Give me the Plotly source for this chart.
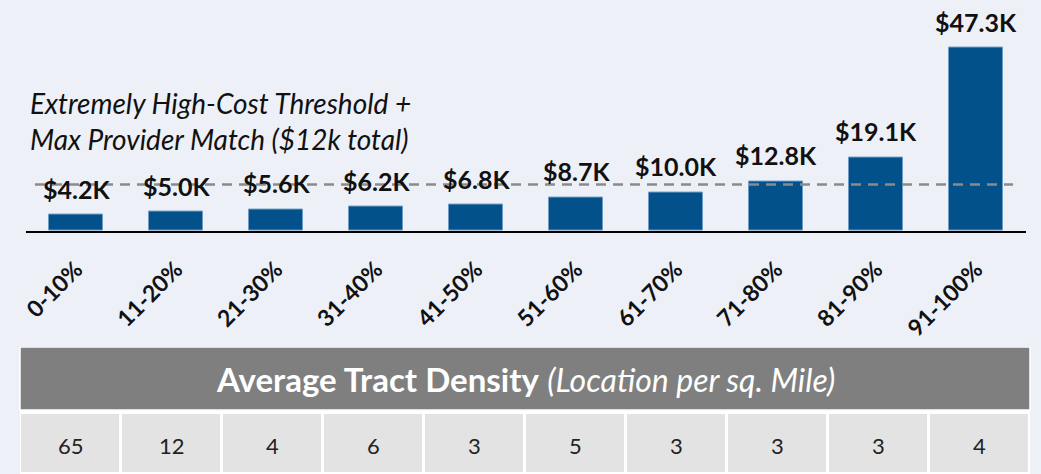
import plotly.graph_objects as go

categories = ["0-10%", "11-20%", "21-30%", "31-40%", "41-50%",
              "51-60%", "61-70%", "71-80%", "81-90%", "91-100%"]
costs_k = [4.2, 5.0, 5.6, 6.2, 6.8, 8.7, 10.0, 12.8, 19.1, 47.3]
cost_labels = ["$4.2K", "$5.0K", "$5.6K", "$6.2K", "$6.8K",
               "$8.7K", "$10.0K", "$12.8K", "$19.1K", "$47.3K"]
densities = [65, 12, 4, 6, 3, 5, 3, 3, 3, 4]
threshold_k = 12
threshold_text = "Extremely High-Cost Threshold +<br>Max Provider Match ($12k total)"
table_title = "<b>Average Tract Density</b> <i style='font-size:32px'>(Location per sq. Mile)</i>"

W, H = 1041, 474
BG = "#EDF0F6"
BAR = "#03518A"
FONT = "Lato"
xs = list(range(len(categories)))

fig = go.Figure()

fig.add_trace(go.Bar(
    x=xs, y=costs_k, width=0.54,
    marker=dict(color=BAR, line=dict(color="#6E9CC6", width=1)),
    hoverinfo="skip", showlegend=False,
))

# table cells drawn on a second axis
cell_top = 61
fig.add_trace(go.Bar(
    x=xs, y=[cell_top] * len(xs), base=0, width=1,
    marker=dict(color="#E3E3E3", line=dict(color="white", width=3)),
    xaxis="x2", yaxis="y2", hoverinfo="skip", showlegend=False,
))

annotations = []
for x, v, lab in zip(xs, costs_k, cost_labels):
    annotations.append(dict(x=x, y=v, text=f"<b>{lab}</b>", showarrow=False,
                            yanchor="bottom", yshift=9,
                            font=dict(family=FONT, size=25, color="#111111")))
for x, d in zip(xs, densities):
    annotations.append(dict(x=x, y=cell_top / 2 - 2, xref="x2", yref="y2", text=str(d),
                            showarrow=False, font=dict(family=FONT, size=22, color="#222222")))
annotations.append(dict(x=0.5, y=95, xref="x2 domain", yref="y2", text=table_title,
                        showarrow=False, font=dict(family=FONT, size=33, color="white")))
annotations.append(dict(x=28 / W, y=1 - 121 / H, xref="paper", yref="paper",
                        text=f"<i>{threshold_text}</i>", showarrow=False, align="left",
                        xanchor="left", yanchor="middle",
                        font=dict(family=FONT, size=28, color="#111111")))

shapes = [
    dict(type="rect", xref="x2 domain", yref="y2", x0=0, x1=1, y0=64, y1=127,
         fillcolor="#7F7F7F", line=dict(color="white", width=1.5), layer="below"),
    dict(type="line", xref="x", yref="y", x0=-0.41, x1=9.37, y0=threshold_k, y1=threshold_k,
         line=dict(color="#8A8A8A", width=2.5, dash="10px,7px"), layer="above"),
]

base_px = 231
px_per_k = 183 / 47.3
ytop = 50
top_px = base_px - ytop * px_per_k

fig.update_layout(
    width=W, height=H, margin=dict(l=0, r=0, t=0, b=0, autoexpand=False),
    paper_bgcolor=BG, plot_bgcolor=BG,
    bargap=0, annotations=annotations, shapes=shapes,
    xaxis=dict(domain=[26 / W, 1026 / W], range=[-0.5, 9.5], tickmode="array",
               tickvals=xs, ticktext=[f"<b>{c}</b>" for c in categories],
               tickangle=-45, tickfont=dict(family=FONT, size=23, color="#111111"),
               showline=True, linecolor="black", linewidth=2, showgrid=False,
               zeroline=False, ticks="", ticklabelstandoff=14, automargin=False),
    yaxis=dict(domain=[1 - base_px / H, 1 - top_px / H], range=[0, ytop],
               visible=False, showgrid=False, automargin=False),
    xaxis2=dict(domain=[20 / W, 1030 / W], range=[-0.5, 9.5], visible=False,
                anchor="y2", automargin=False),
    yaxis2=dict(domain=[0, 127 / H], range=[0, 127], visible=False, anchor="x2",
                automargin=False),
)

fig.write_html("out.html", config={"displayModeBar": False},
               post_script="document.body.style.margin='0px';")
